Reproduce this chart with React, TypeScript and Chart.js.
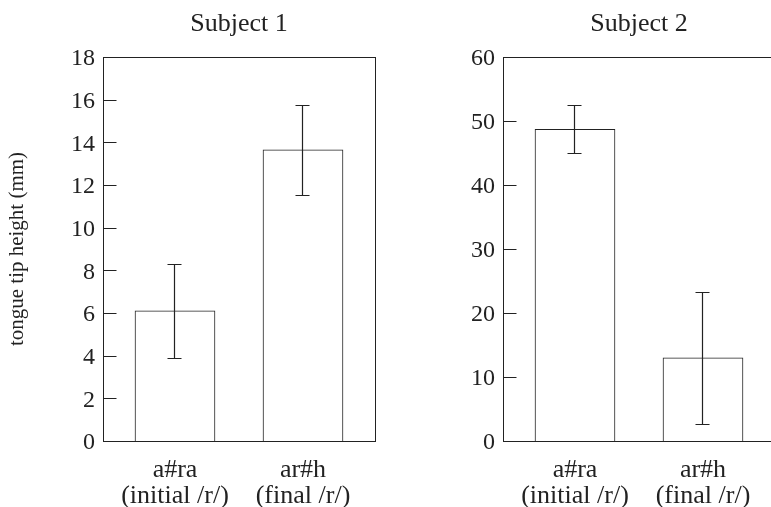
import React, { useEffect, useRef } from 'react';
import { Chart, registerables } from 'chart.js';

Chart.register(...registerables);

const FONT = "'Liberation Serif', 'Times New Roman', serif";
const INK = '#222222';

const categories = ['a#ra', 'ar#h'];
const categoryNotes = ['(initial /r/)', '(final /r/)'];
const categoryPositions = [0, 1];

const yAxisTitle = 'tongue tip height (mm)';

const subject1Title = 'Subject 1';
const subject1Means = [6.1, 13.65];
const subject1Errors = [2.2, 2.1];
const subject1Max = 18;
const subject1Step = 2;

const subject2Title = 'Subject 2';
const subject2Means = [48.7, 13.0];
const subject2Errors = [3.75, 10.3];
const subject2Max = 60;
const subject2Step = 10;

type PanelProps = {
  title: string;
  means: number[];
  errors: number[];
  yMax: number;
  yStep: number;
  showYTitle: boolean;
  axisWidth: number;
  left: number;
  width: number;
  padRight: number;
};

function makeFramePlugin(title: string, means: number[], errors: number[]) {
  return {
    id: 'frameAndErrors',
    afterDatasetsDraw(chart: any) {
      const { ctx, chartArea: a, scales } = chart;
      const x = scales.x;
      const y = scales.y;
      ctx.save();
      // panel title centred over the plot area
      ctx.fillStyle = INK;
      ctx.font = `26px ${FONT}`;
      ctx.textAlign = 'center';
      ctx.textBaseline = 'alphabetic';
      ctx.fillText(title, (a.left + a.right) / 2, a.top - 26);

      ctx.strokeStyle = INK;
      ctx.lineWidth = 1;
      const L = Math.round(a.left) + 0.5;
      const T = Math.round(a.top) + 0.5;
      const R = Math.round(a.right) + 0.5;
      const B = Math.round(a.bottom) + 0.5;
      ctx.strokeRect(L, T, R - L, B - T);
      // inward tick marks
      y.ticks.forEach((t: any) => {
        if (t.value <= y.min || t.value >= y.max) return;
        const py = Math.round(y.getPixelForValue(t.value)) + 0.5;
        ctx.beginPath();
        ctx.moveTo(L, py);
        ctx.lineTo(L + 13, py);
        ctx.stroke();
      });
      // error bars
      ctx.lineWidth = 1.2;
      means.forEach((m, i) => {
        const px = Math.round(x.getPixelForValue(categoryPositions[i])) - 0.5;
        const hi = Math.round(y.getPixelForValue(m + errors[i])) + 0.5;
        const lo = Math.round(y.getPixelForValue(m - errors[i])) + 0.5;
        ctx.beginPath();
        ctx.moveTo(px, hi);
        ctx.lineTo(px, lo);
        ctx.moveTo(px - 7, hi);
        ctx.lineTo(px + 7, hi);
        ctx.moveTo(px - 7, lo);
        ctx.lineTo(px + 7, lo);
        ctx.stroke();
      });
      ctx.restore();
    },
  };
}

function Panel(props: PanelProps) {
  const ref = useRef<HTMLCanvasElement | null>(null);
  useEffect(() => {
    if (!ref.current) return;
    const chart = new Chart(ref.current, {
      type: 'bar',
      data: {
        datasets: [
          {
            data: props.means.map((m, i) => ({ x: categoryPositions[i], y: m })),
            backgroundColor: '#ffffff',
            borderColor: INK,
            borderWidth: 1,
            barThickness: 80,
          } as any,
        ],
      },
      options: {
        animation: false,
        responsive: true,
        maintainAspectRatio: false,
        layout: { padding: { left: 0, right: props.padRight, top: 57, bottom: 0 } },
        plugins: {
          legend: { display: false },
          tooltip: { enabled: false },
          title: { display: false },
        },
        scales: {
          x: {
            type: 'linear',
            offset: false,
            bounds: 'data',
            min: -0.5625,
            max: 1.5625,
            grid: { display: false, drawTicks: false, offset: false },
            border: { display: false },
            afterBuildTicks: (scale: any) => {
              scale.ticks = categoryPositions.map((v) => ({ value: v }));
            },
            afterFit: (scale: any) => {
              scale.height = 66;
            },
            ticks: {
              color: INK,
              padding: 16,
              maxRotation: 0,
              autoSkip: false,
              font: { family: FONT, size: 26, lineHeight: 1.0 },
              callback: (value: any) => {
                const i = categoryPositions.indexOf(Number(value));
                return i >= 0 ? [categories[i], categoryNotes[i]] : '';
              },
            },
          },
          y: {
            type: 'linear',
            min: 0,
            max: props.yMax,
            grid: { display: false, drawTicks: false },
            border: { display: false },
            afterFit: (scale: any) => {
              scale.width = props.axisWidth;
            },
            ticks: {
              stepSize: props.yStep,
              color: INK,
              padding: 8,
              labelOffset: 2,
              font: { family: FONT, size: 24 },
            },
            title: {
              display: props.showYTitle,
              text: yAxisTitle,
              color: INK,
              font: { family: FONT, size: 21, lineHeight: 1.2 },
              padding: { top: 5, bottom: 0 },
            },
          },
        },
      } as any,
      plugins: [makeFramePlugin(props.title, props.means, props.errors)],
    });
    return () => chart.destroy();
  }, []);
  return (
    <div
      style={{
        position: 'absolute',
        left: props.left,
        top: 0,
        width: props.width,
        height: 507,
      }}
    >
      <canvas ref={ref} />
    </div>
  );
}

export default function App() {
  return (
    <div
      style={{
        position: 'fixed',
        left: 0,
        top: 0,
        width: 771,
        height: 507,
        overflow: 'hidden',
        background: '#ffffff',
      }}
    >
      <Panel
        title={subject1Title}
        means={subject1Means}
        errors={subject1Errors}
        yMax={subject1Max}
        yStep={subject1Step}
        showYTitle={true}
        axisWidth={103}
        left={0}
        width={400}
        padRight={25}
      />
      <Panel
        title={subject2Title}
        means={subject2Means}
        errors={subject2Errors}
        yMax={subject2Max}
        yStep={subject2Step}
        showYTitle={false}
        axisWidth={83}
        left={420}
        width={400}
        padRight={45}
      />
    </div>
  );
}
